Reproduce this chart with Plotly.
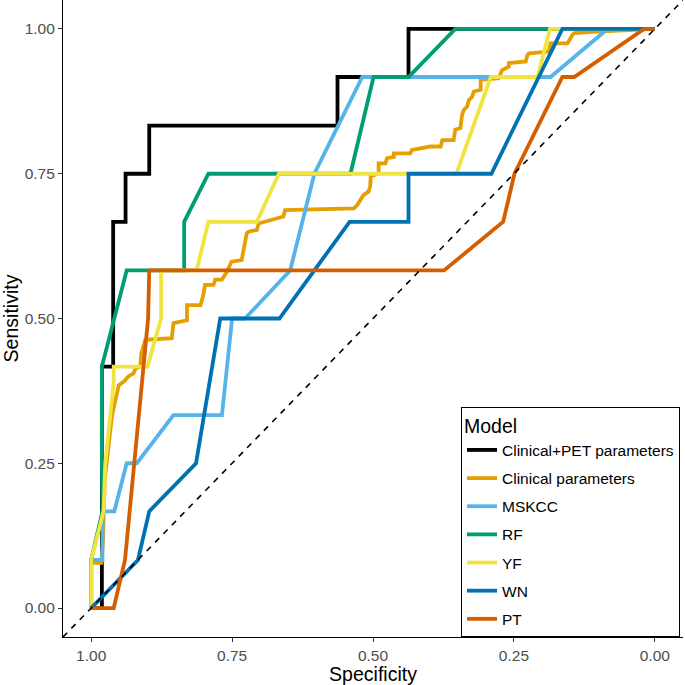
import plotly.graph_objects as go

# ---------------- data ----------------
model_names = ["Clinical+PET parameters", "Clinical parameters", "MSKCC", "RF", "YF", "WN", "PT"]
model_colors = ["#000000", "#E69F00", "#56B4E9", "#009E73", "#F0E442", "#0072B2", "#D55E00"]

clinpet_spec = [1.0, 0.981, 0.981, 0.961, 0.961, 0.939, 0.939, 0.897, 0.897, 0.563, 0.563, 0.437, 0.437, 0.0]
clinpet_sens = [0.0, 0.0, 0.417, 0.417, 0.667, 0.667, 0.75, 0.75, 0.833, 0.833, 0.917, 0.917, 1.0, 1.0]

clin_spec = [1.0, 1.0, 0.982, 0.979, 0.976, 0.972, 0.968, 0.963, 0.954, 0.951, 0.942, 0.934, 0.925, 0.921,
             0.913, 0.911, 0.904, 0.857, 0.854, 0.830, 0.830, 0.806, 0.801, 0.798, 0.783, 0.780, 0.768,
             0.759, 0.754, 0.751, 0.733, 0.730, 0.724, 0.721, 0.706, 0.703, 0.682, 0.659, 0.656, 0.534,
             0.528, 0.517, 0.508, 0.505, 0.504, 0.490, 0.490, 0.478, 0.475, 0.463, 0.463, 0.434, 0.431,
             0.398, 0.380, 0.377, 0.357, 0.354, 0.345, 0.342, 0.339, 0.333, 0.330, 0.324, 0.321, 0.309,
             0.309, 0.277, 0.271, 0.259, 0.259, 0.229, 0.226, 0.223, 0.188, 0.185, 0.155, 0.152, 0.146,
             0.143, 0.111, 0.0]
clin_sens = [0.0, 0.078, 0.078, 0.117, 0.221, 0.263, 0.290, 0.333, 0.377, 0.385, 0.391, 0.400, 0.405, 0.414,
             0.417, 0.440, 0.463, 0.466, 0.492, 0.497, 0.523, 0.523, 0.541, 0.558, 0.558, 0.567, 0.567,
             0.581, 0.592, 0.598, 0.601, 0.618, 0.647, 0.650, 0.653, 0.664, 0.670, 0.676, 0.687, 0.690,
             0.696, 0.713, 0.719, 0.728, 0.745, 0.751, 0.768, 0.768, 0.777, 0.779, 0.785, 0.785, 0.791,
             0.797, 0.797, 0.808, 0.808, 0.826, 0.829, 0.851, 0.860, 0.866, 0.877, 0.883, 0.892, 0.895,
             0.912, 0.915, 0.929, 0.935, 0.941, 0.944, 0.955, 0.958, 0.961, 0.975, 0.975, 0.981, 0.990,
             0.993, 0.995, 1.0]

mskcc_spec = [1.0, 1.0, 0.98, 0.98, 0.959, 0.937, 0.919, 0.854, 0.768, 0.75, 0.727, 0.647, 0.604, 0.519, 0.185, 0.084, 0.0]
mskcc_sens = [0.0, 0.083, 0.083, 0.167, 0.167, 0.25, 0.25, 0.333, 0.333, 0.5, 0.5, 0.583, 0.75, 0.917, 0.917, 1.0, 1.0]

rf_spec = [1.0, 1.0, 0.98, 0.981, 0.981, 0.937, 0.835, 0.835, 0.792, 0.540, 0.499, 0.437, 0.354, 0.0]
rf_sens = [0.0, 0.083, 0.167, 0.25, 0.417, 0.583, 0.583, 0.667, 0.75, 0.75, 0.917, 0.917, 1.0, 1.0]

yf_spec = [1.0, 1.0, 0.978, 0.975, 0.96, 0.96, 0.90, 0.876, 0.876, 0.813, 0.792, 0.706, 0.667, 0.352, 0.291, 0.208, 0.186, 0.0]
yf_sens = [0.0, 0.083, 0.167, 0.25, 0.39, 0.417, 0.417, 0.5, 0.583, 0.583, 0.667, 0.667, 0.75, 0.75, 0.917, 0.917, 1.0, 1.0]

wn_spec = [1.0, 0.917, 0.897, 0.814, 0.771, 0.666, 0.5415, 0.437, 0.437, 0.29, 0.164, 0.0]
wn_sens = [0.0, 0.083, 0.167, 0.25, 0.5, 0.5, 0.667, 0.667, 0.75, 0.75, 1.0, 1.0]

pt_spec = [1.0, 0.96, 0.94, 0.899, 0.897, 0.374, 0.269, 0.249, 0.164, 0.143, 0.019, 0.0]
pt_sens = [0.0, 0.0, 0.083, 0.5, 0.583, 0.583, 0.667, 0.75, 0.917, 0.917, 1.0, 1.0]

tick_vals = [1.0, 0.75, 0.5, 0.25, 0.0]
tick_text = ["1.00", "0.75", "0.50", "0.25", "0.00"]
x_range = [1.05, -0.05]
y_range = [-0.05, 1.05]

specs = [clinpet_spec, clin_spec, mskcc_spec, rf_spec, yf_spec, wn_spec, pt_spec]
senss = [clinpet_sens, clin_sens, mskcc_sens, rf_sens, yf_sens, wn_sens, pt_sens]

FONT = "Liberation Sans, Arial, sans-serif"

fig = go.Figure()
for i, (name, col, sx, sy) in enumerate(zip(model_names, model_colors, specs, senss)):
    fig.add_trace(go.Scatter(
        x=sx, y=sy, mode="lines", name=name, legendgroup=name,
        line=dict(color=col, width=3.8),
    ))

# chance diagonal spanning the panel
diag_x = list(x_range)
diag_y = [1 - v for v in diag_x]
fig.add_trace(go.Scatter(
    x=diag_x, y=diag_y, mode="lines", showlegend=False, hoverinfo="skip",
    line=dict(color="black", width=1.6, dash="6px,6px"),
))

axis_common = dict(
    showgrid=False, zeroline=False, showline=True, linecolor="black", linewidth=1.1,
    ticks="outside", ticklen=4, tickwidth=1.1, tickcolor="#333333",
    tickfont=dict(family=FONT, size=15.5, color="#4D4D4D"),
    tickvals=tick_vals, ticktext=tick_text, automargin=False,
)

fig.update_layout(
    width=685, height=685,
    margin=dict(l=63, r=2, t=0, b=48, autoexpand=False),
    paper_bgcolor="white", plot_bgcolor="white",
    font=dict(family=FONT),
    xaxis=dict(range=x_range, title=dict(text="Specificity", font=dict(family=FONT, size=19.5, color="black"), standoff=10), **axis_common),
    yaxis=dict(range=y_range, title=dict(text="Sensitivity", font=dict(family=FONT, size=19.5, color="black"), standoff=2), **axis_common),
    legend=dict(
        x=(461 - 63) / 620, y=0, xanchor="left", yanchor="bottom",
        bordercolor="black", borderwidth=1, bgcolor="white",
        font=dict(family=FONT, size=15.5, color="black"),
        title=dict(text="Model", font=dict(family=FONT, size=19.5, color="black")),
        traceorder="grouped", tracegroupgap=5,
    ),
    showlegend=True,
)

fig.write_html(
    "out.html",
    config={"displayModeBar": False},
    post_script="document.body.style.margin='0';document.body.style.padding='0';",
)
